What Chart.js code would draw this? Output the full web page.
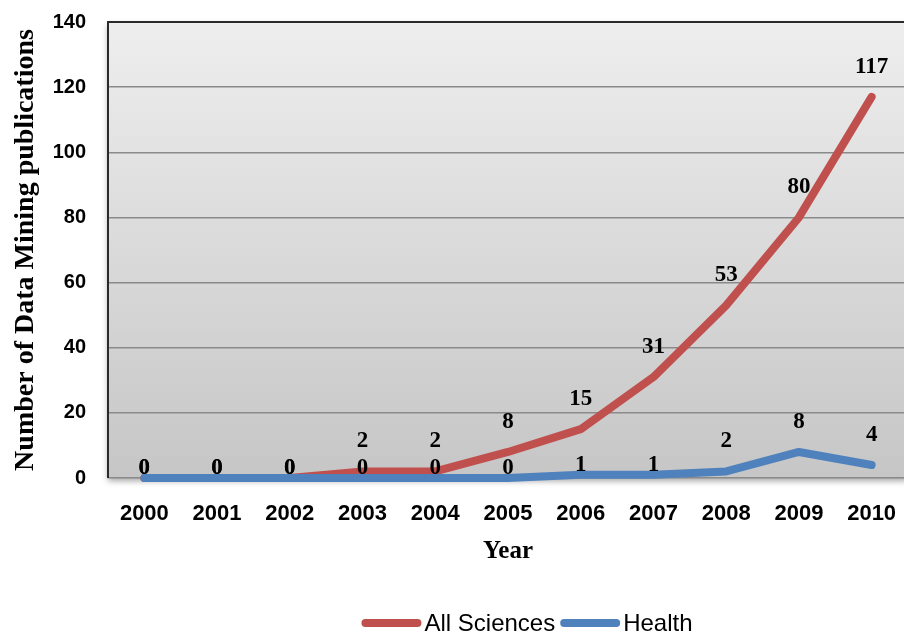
<!DOCTYPE html>
<html>
<head>
<meta charset="utf-8">
<script src="https://cdn.jsdelivr.net/npm/chart.js@4/dist/chart.umd.min.js"></script>
<style>
  html, body { margin: 0; padding: 0; background: #ffffff; overflow: hidden; }
  #wrap { position: relative; width: 908px; height: 632px; }
</style>
</head>
<body>
<div id="wrap"><canvas id="chart"></canvas></div>
<script>
// Publications per year
const years = ['2000', '2001', '2002', '2003', '2004', '2005', '2006', '2007', '2008', '2009', '2010'];
const allSciences = [0, 0, 0, 2, 2, 8, 15, 31, 53, 80, 117];
const health = [0, 0, 0, 0, 0, 0, 1, 1, 2, 8, 4];
const seriesNames = ['All Sciences', 'Health'];
const yTickValues = [0, 20, 40, 60, 80, 100, 120, 140];

const RED = '#C0504D';
const BLUE = '#4F81BD';
const SERIF = '"Liberation Serif", "Times New Roman", serif';
const SANS = '"Liberation Sans", Arial, sans-serif';

// Gradient plot background with a soft drop shadow and dark left/top edges
const plotBackground = {
  id: 'plotBackground',
  beforeDraw(chart) {
    const { ctx, chartArea: a } = chart;
    ctx.save();
    const g = ctx.createLinearGradient(0, a.top, 0, a.bottom);
    g.addColorStop(0, '#eeeeee');
    g.addColorStop(1, '#c6c6c6');
    ctx.shadowColor = 'rgba(0,0,0,0.35)';
    ctx.shadowBlur = 6;
    ctx.shadowOffsetY = 3;
    ctx.fillStyle = g;
    ctx.fillRect(a.left, a.top, a.right - a.left, a.bottom - a.top);
    ctx.restore();
  },
  afterDraw(chart) {
    const { ctx, chartArea: a } = chart;
    ctx.save();
    ctx.strokeStyle = '#2a2a2a';
    ctx.lineWidth = 2;
    ctx.beginPath();
    ctx.moveTo(a.left, a.bottom);
    ctx.lineTo(a.left, a.top);
    ctx.lineTo(a.right, a.top);
    ctx.stroke();
    ctx.restore();
  }
};

// Value labels above each point
const valueLabels = {
  id: 'valueLabels',
  afterDatasetsDraw(chart) {
    const { ctx } = chart;
    ctx.save();
    ctx.font = 'bold 23px ' + SERIF;
    ctx.fillStyle = '#000000';
    ctx.textAlign = 'center';
    ctx.textBaseline = 'middle';
    chart.data.datasets.forEach((ds, i) => {
      const meta = chart.getDatasetMeta(i);
      meta.data.forEach((pt, j) => {
        const v = ds.data[j];
        const lift = v < 2 ? 10 : 30;
        ctx.fillText(String(v), pt.x, pt.y - lift);
      });
    });
    ctx.restore();
  }
};

// Legend row: line sample followed by series name
const lineLegend = {
  id: 'lineLegend',
  afterDraw(chart) {
    const { ctx } = chart;
    const sampleW = 60, gapText = 3, gapItem = 5, y = 623, centerX = 527;
    ctx.save();
    ctx.font = '24px ' + SANS;
    ctx.textBaseline = 'middle';
    ctx.textAlign = 'left';
    const items = chart.data.datasets.map(ds => ({ label: ds.label, color: ds.borderColor, w: ctx.measureText(ds.label).width }));
    let total = 0;
    items.forEach((it, k) => { total += sampleW + gapText + it.w + (k < items.length - 1 ? gapItem : 0); });
    let x = centerX - total / 2;
    items.forEach(it => {
      ctx.strokeStyle = it.color;
      ctx.lineWidth = 8;
      ctx.lineCap = 'round';
      ctx.beginPath();
      ctx.moveTo(x + 4, y);
      ctx.lineTo(x + sampleW - 4, y);
      ctx.stroke();
      x += sampleW + gapText;
      ctx.fillStyle = '#000000';
      ctx.fillText(it.label, x, y + 1);
      x += it.w + gapItem;
    });
    ctx.restore();
  }
};

// Keep the plot area where the layout padding puts it
function noScalePadding(scale) {
  scale.paddingTop = 0;
  scale.paddingBottom = 0;
  scale.paddingLeft = 0;
  scale.paddingRight = 0;
}

new Chart(document.getElementById('chart'), {
  type: 'line',
  data: {
    labels: years,
    datasets: [
      {
        label: seriesNames[0],
        data: allSciences,
        borderColor: RED,
        backgroundColor: RED,
        borderWidth: 8,
        borderCapStyle: 'round',
        borderJoinStyle: 'round',
        pointRadius: 0,
        tension: 0,
        clip: false,
        order: 1
      },
      {
        label: seriesNames[1],
        data: health,
        borderColor: BLUE,
        backgroundColor: BLUE,
        borderWidth: 8,
        borderCapStyle: 'round',
        borderJoinStyle: 'round',
        pointRadius: 0,
        tension: 0,
        clip: false,
        order: 0
      }
    ]
  },
  options: {
    responsive: true,
    maintainAspectRatio: false,
    animation: false,
    devicePixelRatio: 1,
    layout: { padding: { top: 22, bottom: 65.5, left: 0, right: 0 } },
    plugins: {
      legend: { display: false },
      tooltip: { enabled: false }
    },
    scales: {
      x: {
        offset: true,
        grid: { display: false, drawTicks: false },
        border: { display: false },
        ticks: {
          color: '#000000',
          font: { family: SANS, size: 22, weight: 'bold' },
          padding: 23,
          maxRotation: 0,
          autoSkip: false
        },
        title: {
          display: true,
          text: 'Year',
          color: '#000000',
          font: { family: SERIF, size: 25, weight: 'bold' },
          padding: { top: 0, bottom: 0 }
        },
        afterFit(scale) { scale.height = 88.5; noScalePadding(scale); }
      },
      y: {
        min: 0,
        max: 140,
        afterBuildTicks(scale) { scale.ticks = yTickValues.map(v => ({ value: v })); },
        grid: { color: '#8a8a8a', lineWidth: 1.5, drawTicks: false },
        border: { display: false },
        ticks: {
          color: '#000000',
          font: { family: SANS, size: 20, weight: 'bold' },
          padding: 22
        },
        title: {
          display: true,
          text: 'Number of Data Mining publications',
          color: '#000000',
          font: { family: SERIF, size: 28, weight: 'bold' },
          padding: { top: 9, bottom: 0 }
        },
        afterFit(scale) { scale.width = 108; noScalePadding(scale); }
      }
    }
  },
  plugins: [plotBackground, valueLabels, lineLegend]
});
</script>
</body>
</html>
